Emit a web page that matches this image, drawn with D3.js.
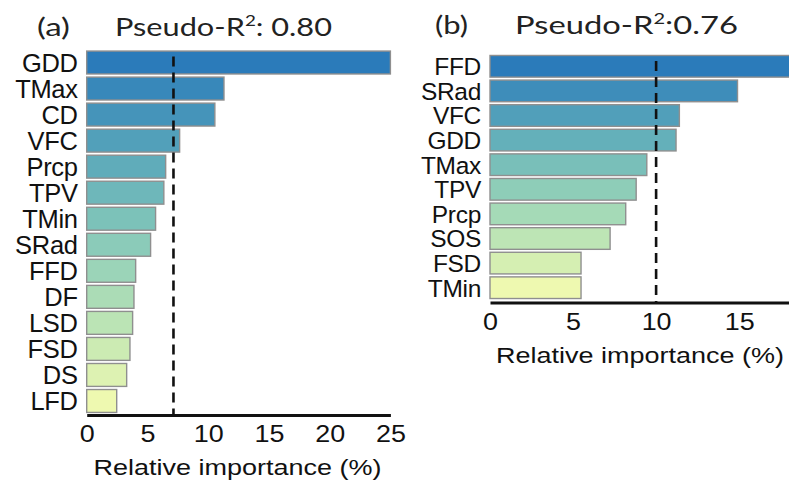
<!DOCTYPE html>
<html>
<head>
<meta charset="utf-8">
<script src="https://cdn.jsdelivr.net/npm/d3@7.9.0/dist/d3.min.js"></script>
<style>
  body { margin: 0; background: #fff; }
  svg { display: block; }
  .lab { font-family: "Liberation Sans", Arial, sans-serif; fill: #111; }
  .ttl { font-family: Lato, "Open Sans", sans-serif; fill: #222; }
</style>
</head>
<body>
<svg id="chart" width="789" height="482"></svg>
<script>
// panel (a)
const varsA = ['GDD','TMax','CD','VFC','Prcp','TPV','TMin','SRad','FFD','DF','LSD','FSD','DS','LFD'];
const valsA = [25.0, 11.3, 10.55, 7.65, 6.5, 6.35, 5.67, 5.26, 4.03, 3.89, 3.78, 3.56, 3.29, 2.47];
const ticksA = [0, 5, 10, 15, 20, 25];
const refA = 100 / 14;

// panel (b)
const varsB = ['FFD','SRad','VFC','GDD','TMax','TPV','Prcp','SOS','FSD','TMin'];
const valsB = [19.0, 14.9, 11.4, 11.2, 9.44, 8.8, 8.17, 7.23, 5.48, 5.48];
const ticksB = [0, 5, 10, 15];
const refB = 100 / 10;

const svg = d3.select('#chart');
const ramp = d3.interpolateRgbBasis(['#2b7bba', '#7fcdbb', '#eef9b0']);

// stretch a text horizontally to a given width (the source figure is a bit wide)
function stretchTo(sel, w) {
  const node = sel.node();
  const bw = node.getBBox().width;
  sel.attr('transform', `scale(${w / bw},1)`);
}

function panel(o) {
  const g = svg.append('g');
  const x = d3.scaleLinear().domain(o.domain).range([o.x0, o.x1]);
  const y = d3.scaleBand().domain(o.vars).range([o.y0, o.y1]).paddingInner(0.12).paddingOuter(0.06);
  const col = d3.scaleLinear().domain([0, o.vars.length - 1]).range([0, 1]);

  g.append('g').selectAll('rect')
    .data(o.vals)
    .join('rect')
      .attr('x', x(0))
      .attr('y', (d, i) => y(o.vars[i]))
      .attr('width', d => Math.min(x(d), 790) - x(0))
      .attr('height', y.bandwidth())
      .attr('fill', (d, i) => ramp(col(i)))
      .attr('stroke', '#8f8f8f')
      .attr('stroke-width', 1.4);

  g.append('g').selectAll('text')
    .data(o.vars)
    .join('text')
      .attr('class', 'lab')
      .attr('x', x(0) - 9)
      .attr('y', d => y(d) + y.bandwidth() / 2)
      .attr('dy', '0.36em')
      .attr('text-anchor', 'end')
      .attr('font-size', o.labSize)
      .attr('letter-spacing', -0.3)
      .text(d => d);

  // mean importance reference
  g.append('line')
    .attr('x1', x(o.ref)).attr('x2', x(o.ref))
    .attr('y1', o.y0 + 7).attr('y2', o.axisY)
    .attr('stroke', '#111')
    .attr('stroke-width', 2.6)
    .attr('stroke-dasharray', '10,6');

  const ax = g.append('g')
    .attr('transform', `translate(0,${o.axisY})`)
    .call(d3.axisBottom(x).tickValues(o.ticks).tickSize(0).tickPadding(11));
  ax.select('.domain').attr('stroke', '#111').attr('stroke-width', 3.2);
  ax.selectAll('text')
    .attr('class', 'lab')
    .attr('font-size', 23)
    .attr('fill', '#111')
    .attr('transform', 'scale(1.17,1)');

  const tg = g.append('g').attr('transform', `translate(${o.titleX},${o.axisY + 60})`);
  const t = tg.append('text')
    .attr('class', 'lab')
    .attr('font-size', 22)
    .attr('text-anchor', 'middle')
    .text('Relative importance (%)');
  stretchTo(t, 288);

  const hg = g.append('g').attr('transform', `translate(${o.tagX},${o.headY})`);
  const tag = hg.append('text')
    .attr('class', 'ttl')
    .attr('font-size', 25)
    .text(o.tag);
  stretchTo(tag, 33);

  const rg = g.append('g').attr('transform', `translate(${o.r2X},${o.headY})`);
  const r = rg.append('text')
    .attr('class', 'ttl')
    .attr('font-size', 24.5);
  r.append('tspan').text('Pseudo-R');
  r.append('tspan').attr('font-size', 15).attr('dy', -10).text('2');
  r.append('tspan').attr('dy', 10).text(o.r2);
  stretchTo(r, o.r2W);
}

panel({
  vars: varsA, vals: valsA, ticks: ticksA, ref: refA, labSize: 25.5,
  domain: [0, 25], x0: 86.7, x1: 390.4, y0: 49.5, y1: 414, axisY: 415,
  titleX: 237.5, tagX: 37, tag: '(a)', r2X: 115, r2: ': 0.80', r2W: 217, headY: 36
});

panel({
  vars: varsB, vals: valsB, ticks: ticksB, ref: refB, labSize: 24.5,
  domain: [0, 18], x0: 490, x1: 789, y0: 54, y1: 300, axisY: 302.5,
  titleX: 640, tagX: 435, tag: '(b)', r2X: 515, r2: ':0.76', r2W: 223, headY: 33.5
});
</script>
</body>
</html>
